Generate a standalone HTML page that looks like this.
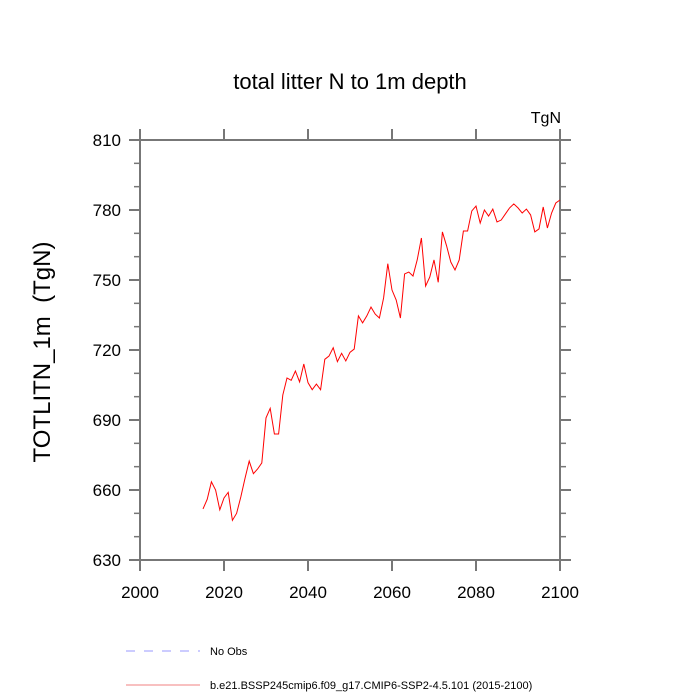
<!DOCTYPE html>
<html><head><meta charset="utf-8"><style>
html,body{margin:0;padding:0;background:#fff;}
svg{display:block;font-family:"Liberation Sans",sans-serif;}
</style></head><body>
<svg id="chart" width="700" height="700" viewBox="0 0 700 700">
<text x="350" y="89" text-anchor="middle" font-size="22" fill="#000">total litter N to 1m depth</text>
<text x="561" y="123" text-anchor="end" font-size="16" fill="#000">TgN</text>
<text transform="translate(50,352) rotate(-90)" text-anchor="middle" font-size="24" fill="#000" xml:space="preserve" style="white-space:pre">TOTLITN_1m  (TgN)</text>
<g id="axes"></g>
<g id="series"></g>
<g>
<line x1="126" y1="651" x2="200" y2="651" stroke="#9999ff" stroke-width="1" stroke-dasharray="9,9"/>
<text x="210" y="655" font-size="11" fill="#000">No Obs</text>
<line x1="126" y1="685" x2="200" y2="685" stroke="#f08080" stroke-width="1"/>
<text x="210" y="689" font-size="11" fill="#000">b.e21.BSSP245cmip6.f09_g17.CMIP6-SSP2-4.5.101 (2015-2100)</text>
</g>
</svg>
<script>
const startYear = 2015;
const values = [651.9,656,663.5,660,651.5,656.6,659,647,650,657,665,672.4,667,669,671.6,690.9,695,684,684,700.7,708,707,711,706.3,714,706,703,705.4,703,716,717.4,721,715,718.6,715.3,719,720.4,734.6,731.6,734.6,738.4,735.4,733.7,742.3,757,745.7,741.4,733.7,752.6,753.4,751.7,758.6,768,747.4,751.3,758.6,749,770.6,764.6,757.7,754.3,758.6,771,771,779.6,781.7,774.4,780,777.4,780.4,774.9,775.7,778.3,780.9,782.6,780.9,778.7,780.4,777.9,770.6,771.9,781.3,772.3,778.7,783,784.3];
const xTicks = [2000,2020,2040,2060,2080,2100];
const yTicks = [630,660,690,720,750,780,810];
const yMinor = [640,650,670,680,700,710,730,740,760,770,790,800];

const L=140,R=560,T=140,B=560;
const xS = v => L + (v-2000)/(2100-2000)*(R-L);
const yS = v => B - (v-630)/(810-630)*(B-T);
const NS="http://www.w3.org/2000/svg";
const axes=document.getElementById('axes');
function mk(tag,attrs,parent){const e=document.createElementNS(NS,tag);for(const k in attrs)e.setAttribute(k,attrs[k]);parent.appendChild(e);return e;}
const frame = mk('rect',{x:L,y:T,width:R-L,height:B-T,fill:'none',stroke:'#777','stroke-width':2},axes);


xTicks.forEach(t=>{
  const x=xS(t);
  const a=mk('line',{x1:x,y1:B,x2:x,y2:B+11,stroke:'#777','stroke-width':2},axes);
  
  
  const b=mk('line',{x1:x,y1:T,x2:x,y2:T-11,stroke:'#777','stroke-width':2},axes);
  
  
  const tx=mk('text',{x:x,y:B+38,'text-anchor':'middle','font-size':17,fill:'#000'},axes);
  tx.textContent=t;
  
  
});
yTicks.forEach(t=>{
  const y=yS(t);
  const a=mk('line',{x1:L-11,y1:y,x2:L,y2:y,stroke:'#777','stroke-width':2},axes);
  
  
  const b=mk('line',{x1:R,y1:y,x2:R+11,y2:y,stroke:'#777','stroke-width':2},axes);
  
  
  const tx=mk('text',{x:L-19,y:y+6,'text-anchor':'end','font-size':17,fill:'#000'},axes);
  tx.textContent=t;
  
  
});
yMinor.forEach(t=>{
  const y=yS(t);
  const a=mk('line',{x1:L-6,y1:y,x2:L,y2:y,stroke:'#777','stroke-width':1.5},axes);
  
  
  const b=mk('line',{x1:R,y1:y,x2:R+6,y2:y,stroke:'#777','stroke-width':1.5},axes);
  
  
});
const pts=values.map((v,i)=>xS(startYear+i).toFixed(2)+','+yS(v).toFixed(2)).join(' ');
const line=mk('polyline',{points:pts,fill:'none',stroke:'#ff0000','stroke-width':1},document.getElementById('series'));


</script>
</body></html>
